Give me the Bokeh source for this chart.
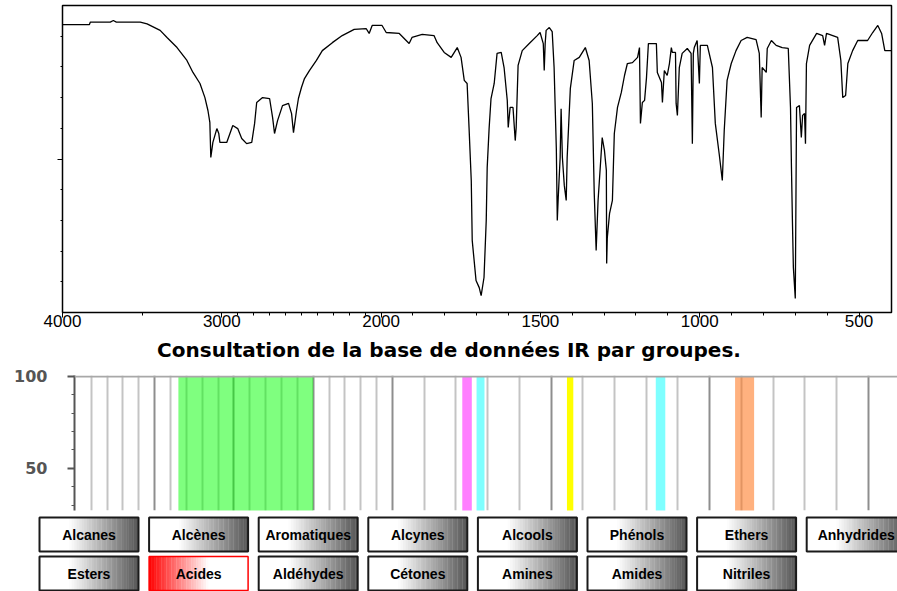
from bokeh.plotting import figure
from bokeh.layouts import column
from bokeh.models import Range1d, FixedTicker, Span, Grid
from bokeh.core.properties import value
from bokeh.embed import file_html
from bokeh.resources import INLINE

# ---------------- data ----------------
wavenumber = [4000, 3831, 3825, 3700, 3681, 3662, 3512, 3469, 3387, 3344,
              3281, 3219, 3181, 3137, 3106, 3087, 3075, 3069, 3056, 3031,
              3019, 3012, 2969, 2931, 2900, 2875, 2844, 2812, 2794, 2781,
              2744, 2700, 2681, 2669, 2650, 2619, 2581, 2562, 2550, 2531,
              2519, 2500, 2481, 2450, 2406, 2369, 2306, 2244, 2169, 2094,
              2075, 2056, 1997, 1984, 1943, 1912, 1903, 1871, 1834, 1824,
              1802, 1780, 1761, 1749, 1739, 1730, 1724, 1717, 1714, 1702,
              1692, 1686, 1677, 1670, 1667, 1661, 1655, 1645, 1636, 1623,
              1614, 1604, 1601, 1595, 1586, 1579, 1576, 1570, 1557, 1535,
              1510, 1501, 1491, 1488, 1485, 1482, 1472, 1463, 1457, 1450,
              1447, 1444, 1438, 1435, 1431, 1425, 1419, 1416, 1406, 1394,
              1378, 1359, 1347, 1337, 1331, 1325, 1319, 1306, 1299, 1293,
              1292, 1290, 1283, 1274, 1268, 1258, 1246, 1236, 1227, 1211,
              1195, 1189, 1186, 1180, 1173, 1167, 1161, 1136, 1133, 1120,
              1117, 1111, 1102, 1095, 1089, 1086, 1076, 1074, 1070, 1064,
              1055, 1039, 1027, 1023, 1020, 1017, 1008, 1001, 998, 976,
              960, 951, 939, 929, 923, 914, 901, 886, 870, 851,
              823, 813, 807, 804, 791, 788, 775, 760, 741, 722,
              715, 712, 709, 706, 700, 696, 687, 681, 677, 671,
              668, 665, 655, 633, 614, 608, 602, 567, 557, 551,
              542, 535, 520, 504, 473, 457, 441, 429, 419, 397]

transmittance = [93.8, 93.8, 94.6, 94.6, 95.1, 94.6, 94.6, 94.0, 91.9, 89.6,
                 86.3, 82.1, 78.2, 74.6, 70.0, 65.8, 61.9, 50.5, 55.4, 59.9,
                 58.3, 55.4, 55.4, 60.9, 59.9, 56.7, 55.0, 55.4, 61.6, 68.4,
                 70.0, 69.7, 63.5, 58.3, 62.5, 67.4, 68.1, 64.8, 58.6, 65.8,
                 69.7, 73.3, 76.2, 78.8, 82.1, 85.3, 87.9, 90.2, 92.2, 92.5,
                 90.9, 93.5, 93.5, 91.2, 90.9, 87.6, 89.6, 90.6, 90.2, 87.9,
                 84.7, 83.1, 86.3, 83.1, 75.6, 74.6, 60.3, 43.0, 23.5, 10.4,
                 8.1, 5.5, 11.4, 30.0, 47.2, 59.9, 69.7, 74.6, 84.4, 84.7,
                 79.8, 69.1, 60.3, 66.8, 66.8, 56.0, 60.3, 80.5, 85.3, 87.6,
                 90.2, 91.2, 87.6, 78.8, 87.6, 91.9, 92.8, 91.5, 79.8, 53.4,
                 30.0, 37.5, 50.5, 66.4, 50.5, 41.4, 36.5, 50.5, 73.0, 82.1,
                 83.1, 86.3, 82.1, 68.1, 38.8, 20.2, 36.5, 57.0, 52.8, 46.3,
                 16.0, 24.4, 32.2, 36.5, 58.3, 66.8, 71.7, 77.2, 81.1, 81.4,
                 83.1, 86.3, 61.6, 68.4, 69.1, 76.5, 87.6, 87.6, 78.2, 74.9,
                 68.4, 78.8, 77.2, 81.1, 86.3, 84.7, 84.7, 68.1, 64.2, 79.8,
                 84.4, 86.0, 84.4, 55.0, 84.4, 86.3, 88.6, 74.6, 87.0, 87.0,
                 79.8, 61.6, 51.8, 43.0, 59.3, 75.6, 81.1, 85.3, 88.6, 89.6,
                 88.9, 84.4, 63.5, 79.8, 78.2, 86.0, 88.6, 87.0, 86.3, 86.0,
                 66.8, 47.2, 30.0, 14.7, 4.6, 66.8, 67.4, 57.0, 64.2, 64.8,
                 55.0, 81.1, 87.0, 90.9, 90.2, 87.0, 90.9, 89.6, 82.1, 70.0,
                 70.7, 81.1, 85.3, 88.6, 88.6, 91.2, 93.5, 90.9, 85.3, 85.3]

x_major = [4000, 3000, 2000, 1500, 1000, 500]
x_major_labels = ["4000", "3000", "2000", "1500", "1000", "500"]

title_text = "Consultation de la base de données IR par groupes."

# acid absorption bands (cm-1) and their level in the group chart
band_start = [3350, 1780, 1735, 1450, 1170, 920]
band_end = [2500, 1750, 1710, 1430, 1140, 860]
band_level = [100, 100, 100, 100, 100, 100]
band_colors = ["#00ff00", "#ff00ff", "#00ffff", "#ffff00", "#00ffff", "#ff6400"]
band_alpha = [0.5, 0.5, 0.5, 1.0, 0.5, 0.5]

bar_ticks = [50, 100]
bar_minor = [30, 40, 60, 70, 80, 90]

groups_row1 = ["Alcanes", "Alcènes", "Aromatiques", "Alcynes", "Alcools", "Phénols", "Ethers", "Anhydrides"]
groups_row2 = ["Esters", "Acides", "Aldéhydes", "Cétones", "Amines", "Amides", "Nitriles"]
selected_group = "Acides"


def wn_to_u(w):
    # IR axis: 4000-2000 compressed, 2000-400 expanded x2
    if w >= 2000:
        return (4000 - w) / 1000.0
    return 2.0 + (2000 - w) / 500.0


W = 897
PX_PER_U = 159.3
PX_PER_U2 = 158.6

# ---------------- spectrum ----------------
p1 = figure(width=W, height=335, x_range=Range1d(0, 829 / PX_PER_U), y_range=Range1d(0, 100),
            output_backend="svg", toolbar_location=None, frame_align=False,
            min_border_left=62, min_border_right=6, min_border_top=5, min_border_bottom=23)
p1.line([wn_to_u(w) for w in wavenumber], transmittance, line_color="black", line_width=1.3)
p1.grid.visible = False
p1.outline_line_color = "black"
p1.outline_line_width = 1.5

x_minor = [3500] + [w for w in range(2900, 450, -100) if w not in x_major]
xa = p1.xaxis[0]
xa.ticker = FixedTicker(ticks=[wn_to_u(w) for w in x_major],
                        minor_ticks=[wn_to_u(w) for w in x_minor])
xa.major_label_overrides = {int(round(wn_to_u(w))): lab for w, lab in zip(x_major, x_major_labels)}
xa.major_tick_out = 5
xa.major_tick_in = 0
xa.minor_tick_out = 3
xa.minor_tick_in = 0
xa.major_label_standoff = -3
xa.major_label_text_font = "Liberation Sans"
xa.major_label_text_font_size = "17px"
xa.major_label_text_color = "black"
xa.axis_line_color = "black"

ya = p1.yaxis[0]
ya.ticker = FixedTicker(ticks=[50], minor_ticks=[10, 20, 30, 40, 60, 70, 80, 90])
ya.major_label_overrides = {50: " "}
ya.major_tick_out = 5
ya.major_tick_in = 0
ya.minor_tick_out = 2
ya.minor_tick_in = 0
ya.axis_line_color = "black"

# ---------------- title ----------------
pt = figure(width=W, height=31, x_range=Range1d(0, 1), y_range=Range1d(0, 1),
            output_backend="svg", toolbar_location=None, min_border=0, frame_align=False,
            x_axis_location=None, y_axis_location=None)
pt.grid.visible = False
pt.outline_line_color = None
pt.text(x=[0.5], y=[0.52], text=[title_text], text_align="center", text_baseline="middle",
        text_font=value("DejaVu Sans"), text_font_style="bold", text_font_size="20px",
        text_color="black")

# ---------------- group chart ----------------
u0 = -0.8 / PX_PER_U2
p2 = figure(width=W, height=147, x_range=Range1d(u0, u0 + 823 / PX_PER_U2),
            y_range=Range1d(100 - 135 / 1.85, 100.5),
            output_backend="svg", toolbar_location=None, frame_align=False,
            min_border_left=74, min_border_right=0, min_border_top=9, min_border_bottom=3,
            x_axis_location=None)
p2.grid.visible = False
p2.outline_line_color = None

light_w = [w for w in range(3900, 450, -100) if w % 500 != 0]
dark_w = [w for w in range(3500, 450, -500)]
g_light = Grid(dimension=0, ticker=FixedTicker(ticks=[wn_to_u(w) for w in light_w]),
               grid_line_color="#c4c4c4", grid_line_width=2)
g_dark = Grid(dimension=0, ticker=FixedTicker(ticks=[wn_to_u(w) for w in dark_w]),
              grid_line_color="#8e8e8e", grid_line_width=2)
p2.add_layout(g_light)
p2.add_layout(g_dark)

p2.quad(left=[wn_to_u(w) for w in band_start], right=[wn_to_u(w) for w in band_end],
        bottom=[0] * len(band_level), top=band_level,
        fill_color=band_colors, fill_alpha=band_alpha, line_color=None)

p2.add_layout(Span(location=100, dimension="width", line_color="#a8a8a8", line_width=2))

ya2 = p2.yaxis[0]
ya2.ticker = FixedTicker(ticks=bar_ticks, minor_ticks=bar_minor)
ya2.axis_line_color = "#555555"
ya2.axis_line_width = 2
ya2.major_tick_out = 7
ya2.major_tick_in = 0
ya2.minor_tick_out = 3
ya2.minor_tick_in = 0
ya2.major_tick_line_color = "#555555"
ya2.minor_tick_line_color = "#555555"
ya2.major_tick_line_width = 2
ya2.major_label_standoff = 20
ya2.major_label_text_font = "DejaVu Sans"
ya2.major_label_text_font_style = "bold"
ya2.major_label_text_font_size = "16px"
ya2.major_label_text_color = "#555555"

# ---------------- buttons ----------------
H3 = 78
p3 = figure(width=W, height=H3, x_range=Range1d(0, W), y_range=Range1d(H3, 0),
            output_backend="svg", toolbar_location=None, min_border=0, frame_align=False,
            x_axis_location=None, y_axis_location=None)
p3.grid.visible = False
p3.outline_line_color = None

BTN_W = 99
STEP = 109.6
X0 = 39
rows = [(groups_row1, 4, 38), (groups_row2, 43, 77)]
N = 40

sl, sr, st, sb, sc = [], [], [], [], []
bl, br, bt, bb, bc, bw = [], [], [], [], [], []
tx, ty, tt = [], [], []
for labels, top, bottom in rows:
    for k, lab in enumerate(labels):
        left = X0 + STEP * k
        for i in range(N):
            t = (i + 0.5) / N
            if lab == selected_group:
                g = int(round(255 * min(1.0, t / 0.6)))
                col = "#ff%02x%02x" % (g, g)
            else:
                f = max(0.0, (t - 0.3) / 0.7)
                g = int(round(255 - (255 - 85) * f))
                col = "#%02x%02x%02x" % (g, g, g)
            sl.append(left + BTN_W * i / N)
            sr.append(left + BTN_W * (i + 1) / N + 0.3)
            st.append(top)
            sb.append(bottom)
            sc.append(col)
        bl.append(left)
        br.append(left + BTN_W)
        bt.append(top)
        bb.append(bottom)
        bc.append("#ff0000" if lab == selected_group else "#1a1a1a")
        bw.append(1.5 if lab == selected_group else 2)
        tx.append(min(left + BTN_W / 2, W - 41))
        ty.append((top + bottom) / 2)
        tt.append(lab)

p3.quad(left=sl, right=sr, top=st, bottom=sb, fill_color=sc, line_color=None)
p3.quad(left=bl, right=br, top=bt, bottom=bb, fill_color=None, line_color=bc, line_width=bw)
p3.text(x=tx, y=ty, text=tt, text_align="center", text_baseline="middle",
        text_font=value("Liberation Sans"), text_font_style="bold", text_font_size="14px",
        text_color="black")

layout = column(p1, pt, p2, p3, spacing=0)
open("out.html", "w").write(file_html(layout, INLINE))
